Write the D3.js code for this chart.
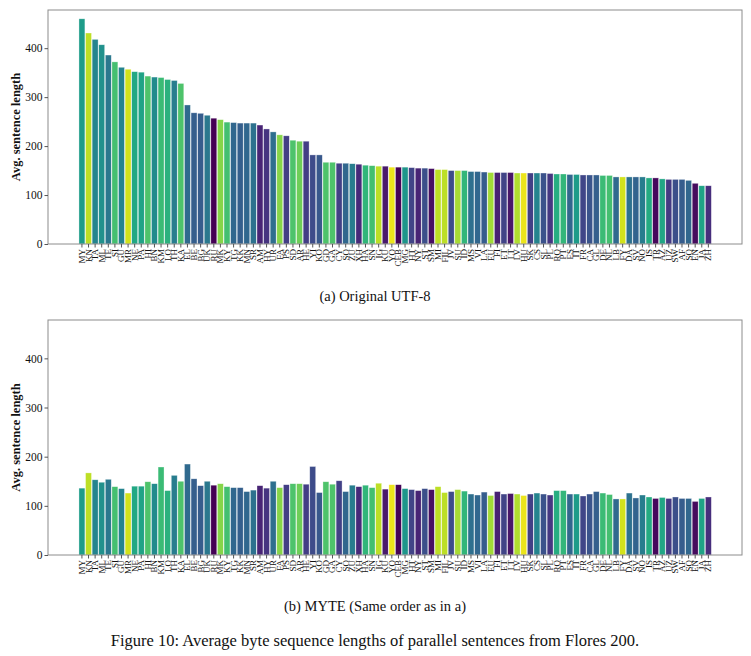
<!DOCTYPE html>
<html>
<head>
<meta charset="utf-8">
<script src="https://cdn.jsdelivr.net/npm/d3@7"></script>
<style>
  body { margin: 0; background: #fff; }
  text { font-family: "Liberation Serif", "DejaVu Serif", serif; }
</style>
</head>
<body>
<div id="chart"></div>
<script>
// language codes, in the order of the original UTF-8 lengths
var languages = ["MY","KN","TA","ML","TE","SI","GU","MR","NE","PA","HI","BN","KM","LO","TH","KA",
    "EL","BE","BG","UK","RU","MK","KY","TG","KK","MN","SR","AM","HY","UR","FA","PS",
    "SD","AR","HE","YI","KO","GD","GA","CY","SO","ZU","XH","HA","SN","IG","KU","YO",
    "CEB","MG","HT","NY","ST","SM","MI","FIL","JV","SU","ID","MS","VI","LA","EU","FI",
    "ET","LT","LV","HU","SK","CS","SL","PL","RO","PT","ES","IT","FR","CA","GL","DE",
    "NL","LB","FY","DA","SV","NO","IS","TR","AZ","UZ","SW","AF","SQ","EN","JA","ZH"];

// (a) average sentence length in UTF-8 bytes
var utf8Lengths = [460,431,418,407,386,372,361,357,352,351,343,341,340,336,334,328,
    284,268,267,263,257,254,249,248,247,247,247,243,235,229,223,221,
    212,210,210,182,182,167,167,165,165,164,163,161,160,159,159,157,
    157,157,156,155,155,154,152,152,150,150,150,148,148,147,146,146,
    146,146,145,145,145,145,145,144,143,143,142,142,141,141,141,140,
    140,137,137,137,137,137,135,135,133,132,132,132,130,124,119,119];

// (b) average sentence length in MYTE bytes (same order)
var myteLengths = [136,167,153,148,154,139,135,126,140,140,149,145,179,131,162,150,
    185,155,141,150,142,145,139,137,137,129,132,141,136,150,137,143,
    145,145,144,180,127,149,144,151,129,142,139,142,137,146,134,143,
    143,135,133,131,135,133,139,127,129,133,130,124,122,128,121,129,
    124,125,124,121,124,126,124,122,131,131,124,124,120,124,129,126,
    123,114,114,126,116,122,118,115,117,115,118,115,115,109,115,118];

// viridis position of each bar colour
var shade = [0.55,0.9,0.45,0.5,0.4,0.7,0.45,0.93,0.6,0.58,0.72,0.48,0.68,0.64,0.42,0.72,
    0.34,0.3,0.29,0.4,0.0,0.82,0.7,0.33,0.3,0.33,0.37,0.1,0.15,0.36,0.82,0.18,
    0.72,0.78,0.18,0.23,0.27,0.72,0.72,0.19,0.33,0.42,0.12,0.66,0.7,0.9,0.07,0.97,
    0.01,0.52,0.2,0.1,0.24,0.04,0.9,0.9,0.23,0.87,0.66,0.36,0.33,0.29,0.86,0.09,
    0.2,0.06,0.88,0.97,0.19,0.45,0.25,0.16,0.62,0.66,0.33,0.55,0.21,0.26,0.3,0.68,
    0.7,0.34,0.93,0.37,0.32,0.42,0.61,0.02,0.59,0.17,0.24,0.29,0.33,0.03,0.58,0.13];

var yTicks = [0, 100, 200, 300, 400];

var W = 751, H = 656;
var left = 48, right = 742;

var svg = d3.select("#chart")
    .append("svg")
    .attr("width", W)
    .attr("height", H);

svg.append("rect")
    .attr("width", W)
    .attr("height", H)
    .attr("fill", "#fff");

var color = d3.scaleSequential(d3.interpolateViridis).domain([0, 1]);

var x = d3.scaleBand()
    .domain(languages)
    .range([78.3, 712])
    .padding(0.1);

function drawPanel(values, top, bottom, caption, captionY) {
    var y = d3.scaleLinear()
        .domain([0, 478])
        .range([bottom, top]);

    var g = svg.append("g");

    // bars
    g.selectAll("rect.bar")
        .data(languages)
        .enter()
        .append("rect")
        .attr("class", "bar")
        .attr("x", function (d) { return x(d); })
        .attr("width", x.bandwidth())
        .attr("y", function (d, i) { return y(values[i]); })
        .attr("height", function (d, i) { return bottom - y(values[i]); })
        .attr("fill", function (d, i) { return color(shade[i]); })
        .attr("stroke", "#fff")
        .attr("stroke-opacity", 0.55)
        .attr("stroke-width", 0.6);

    // frame
    g.append("rect")
        .attr("x", left)
        .attr("y", top)
        .attr("width", right - left)
        .attr("height", bottom - top)
        .attr("fill", "none")
        .attr("stroke", "#8c8c8c")
        .attr("stroke-width", 1);

    // y axis
    var yAxis = g.append("g")
        .attr("transform", "translate(" + left + ",0)")
        .call(d3.axisLeft(y).tickValues(yTicks).tickSize(3.5).tickPadding(2));
    yAxis.select(".domain").remove();
    yAxis.selectAll("line").attr("stroke", "#555");
    yAxis.selectAll("text")
        .attr("font-size", 11.5)
        .attr("fill", "#111")
        .style("font-family", "'Liberation Serif', serif");

    // x axis
    var xAxis = g.append("g")
        .attr("transform", "translate(0," + bottom + ")")
        .call(d3.axisBottom(x).tickSize(3.5).tickPadding(2));
    xAxis.select(".domain").remove();
    xAxis.selectAll("line").attr("stroke", "#555");
    xAxis.selectAll("text")
        .attr("font-size", 9)
        .attr("fill", "#111")
        .style("font-family", "'Liberation Serif', serif")
        .attr("transform", "rotate(-90)")
        .attr("text-anchor", "end")
        .attr("x", -5)
        .attr("y", 0)
        .attr("dy", "0.33em");

    // y label
    g.append("text")
        .attr("transform", "translate(20," + (top + bottom) / 2 + ") rotate(-90)")
        .attr("text-anchor", "middle")
        .attr("font-size", 12.5)
        .attr("font-weight", "bold")
        .attr("fill", "#111")
        .text("Avg. sentence length");

    // sub caption
    svg.append("text")
        .attr("x", 375)
        .attr("y", captionY)
        .attr("text-anchor", "middle")
        .attr("font-size", 14.5)
        .attr("fill", "#111")
        .text(caption);
}

drawPanel(utf8Lengths, 10, 244, "(a) Original UTF-8", 301);
drawPanel(myteLengths, 320, 555, "(b) MYTE (Same order as in a)", 611);

svg.append("text")
    .attr("x", 375)
    .attr("y", 646)
    .attr("text-anchor", "middle")
    .attr("font-size", 16.5)
    .attr("fill", "#111")
    .text("Figure 10: Average byte sequence lengths of parallel sentences from Flores 200.");
</script>
</body>
</html>
